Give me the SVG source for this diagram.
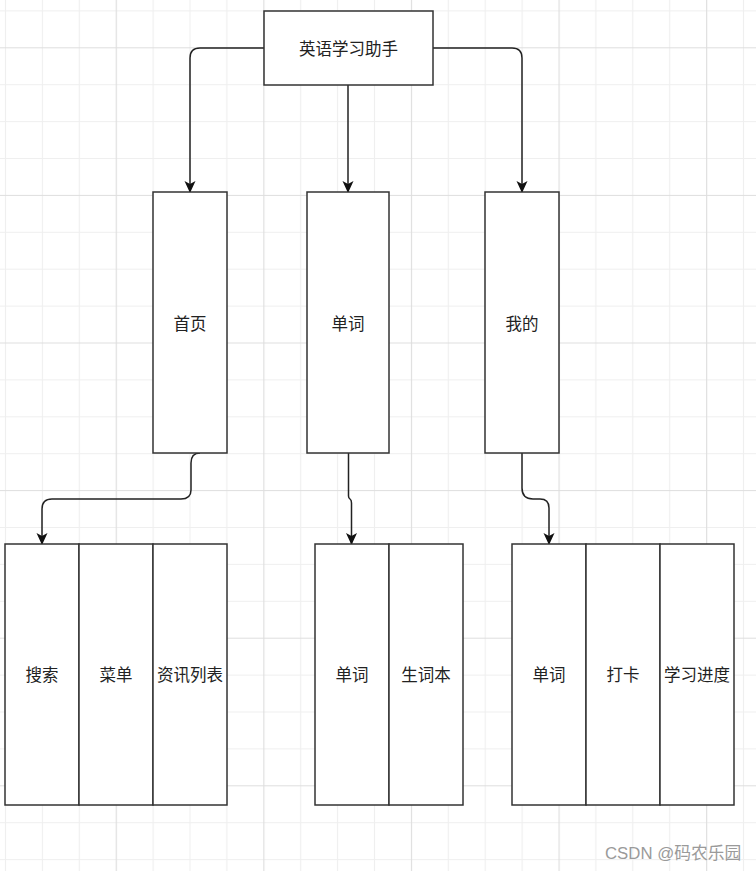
<svg xmlns="http://www.w3.org/2000/svg" width="756" height="871" viewBox="0 0 756 871">
<style>
.box{fill:#fff;stroke:#333;stroke-width:1.5}
.lbl{font-family:"Noto Sans CJK SC","Noto Sans",sans-serif;font-size:16.5px;fill:#222;text-anchor:middle;dominant-baseline:central}
.edge{fill:none;stroke:#222;stroke-width:1.5}
.wm{font-family:"Liberation Sans","Noto Sans CJK SC",sans-serif;font-size:16.8px;fill:#9a9a9a;dominant-baseline:central}
</style>
<defs>
<pattern id="grid" patternUnits="userSpaceOnUse" x="115.7" y="47.3" width="147.6" height="147.6">
<path d="M0 0.5H147.6M0 37.4H147.6M0 74.3H147.6M0 111.2H147.6M0.5 0V147.6M37.4 0V147.6M74.3 0V147.6M111.2 0V147.6" stroke="#efefef" stroke-width="1.2" fill="none"/>
<path d="M0 0.5H147.6M0.5 0V147.6" stroke="#dedede" stroke-width="1.2" fill="none"/>
</pattern>
<marker id="arr" markerWidth="12" markerHeight="12" refX="11" refY="6" orient="auto" markerUnits="userSpaceOnUse">
<path d="M0 0.5L12 6L0 11.5L3 6Z" fill="#111"/>
</marker>
</defs>
<rect width="756" height="871" fill="#fff"/>
<rect width="756" height="871" fill="url(#grid)"/>

<g id="connectors">
<path class="edge" marker-end="url(#arr)" d="M264 48H200Q190 48 190 58V192"/>
<path class="edge" marker-end="url(#arr)" d="M348 85V192"/>
<path class="edge" marker-end="url(#arr)" d="M433 48H512Q522 48 522 58V192"/>
<path class="edge" marker-end="url(#arr)" d="M200 453Q191 453 191 463V490Q191 499 181 499H52Q42 499 42 509V544"/>
<path class="edge" marker-end="url(#arr)" d="M348.5 453V496Q348.5 498 350 499Q351.5 500 351.5 503V544"/>
<path class="edge" marker-end="url(#arr)" d="M522 453V488Q522 499 533 499H540Q549 499 549 508V544"/>
</g>

<g id="root"><rect class="box" x="264" y="11" width="169" height="74"/><text class="lbl" x="348.5" y="48">英语学习助手</text></g>
<g id="home"><rect class="box" x="153" y="192" width="74" height="261"/><text class="lbl" x="190" y="323">首页</text></g>
<g id="words"><rect class="box" x="307" y="192" width="82" height="261"/><text class="lbl" x="348" y="323">单词</text></g>
<g id="mine"><rect class="box" x="485" y="192" width="74" height="261"/><text class="lbl" x="522" y="323">我的</text></g>

<g id="search"><rect class="box" x="5" y="544" width="74" height="261"/><text class="lbl" x="42" y="674">搜索</text></g>
<g id="menu"><rect class="box" x="79" y="544" width="74" height="261"/><text class="lbl" x="116" y="674">菜单</text></g>
<g id="news"><rect class="box" x="153" y="544" width="74" height="261"/><text class="lbl" x="190" y="674">资讯列表</text></g>

<g id="word2"><rect class="box" x="315" y="544" width="74" height="261"/><text class="lbl" x="352" y="674">单词</text></g>
<g id="vocab"><rect class="box" x="389" y="544" width="74" height="261"/><text class="lbl" x="426" y="674">生词本</text></g>

<g id="word3"><rect class="box" x="512" y="544" width="74" height="261"/><text class="lbl" x="549" y="674">单词</text></g>
<g id="checkin"><rect class="box" x="586" y="544" width="74" height="261"/><text class="lbl" x="623" y="674">打卡</text></g>
<g id="progress"><rect class="box" x="660" y="544" width="74" height="261"/><text class="lbl" x="697" y="674">学习进度</text></g>

<text class="wm" x="605" y="853">CSDN @码农乐园</text>
</svg>
